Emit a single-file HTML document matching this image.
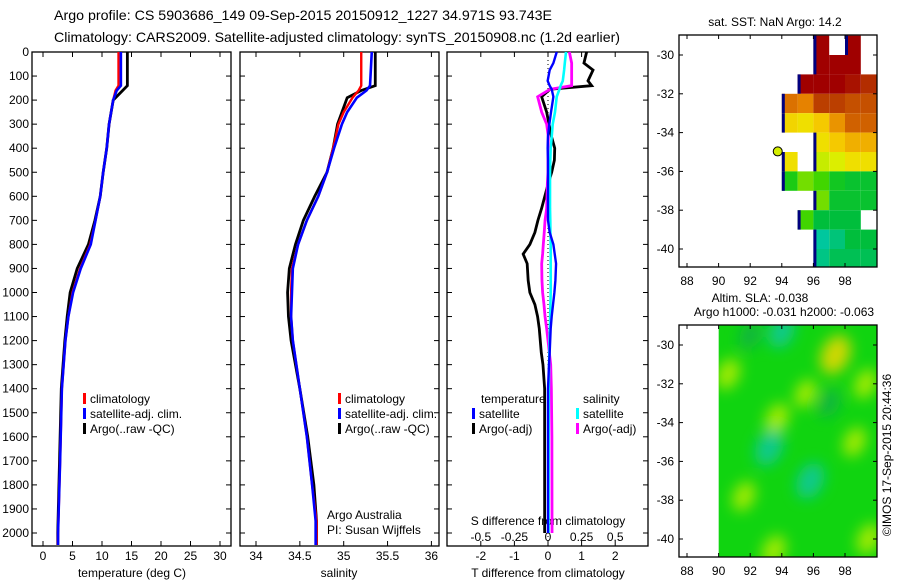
<!DOCTYPE html>
<html><head><meta charset="utf-8"><style>
body{margin:0;background:#fff;}
svg{display:block;font-family:"Liberation Sans",sans-serif;}
text{fill:#000;}
</style></head><body>
<svg id="chart" width="900" height="580" viewBox="0 0 900 580" xmlns="http://www.w3.org/2000/svg">
<text x="54" y="20" font-size="14" textLength="498" lengthAdjust="spacingAndGlyphs">Argo profile: CS 5903686_149 09-Sep-2015 20150912_1227 34.971S 93.743E</text>
<text x="54" y="42" font-size="14" textLength="566" lengthAdjust="spacingAndGlyphs">Climatology: CARS2009. Satellite-adjusted climatology: synTS_20150908.nc (1.2d earlier)</text>
<g id="g"></g>
</svg>
<script>
// ---------- profile data ----------
const tDepth = [0,140,160,200,300,400,500,600,700,800,900,1000,1100,1200,1300,1400,1500,1700,2000,2050];
const tClim  = [12.8,12.8,12.3,11.9,11.2,10.8,10.2,9.7,8.9,8.0,6.3,5.0,4.3,3.8,3.5,3.2,3.1,2.9,2.55,2.5];
const tSat   = [13.2,13.2,12.5,11.9,11.2,10.8,10.2,9.7,8.9,8.1,6.4,5.1,4.3,3.8,3.5,3.2,3.1,2.9,2.55,2.55];
const tArgo  = [14.3,14.3,13.5,11.9,11.2,10.8,10.2,9.7,8.8,7.7,5.8,4.6,4.1,3.7,3.4,3.1,3.0,2.8,2.5,2.5];
const sDepth = [0,140,160,190,250,300,400,500,600,700,800,900,1000,1100,1200,1300,1400,1600,1800,1950,2000,2050];
const sClim  = [35.20,35.20,35.17,35.10,35.00,34.94,34.88,34.81,34.71,34.58,34.48,34.41,34.40,34.40,34.42,34.46,34.50,34.58,34.64,34.69,34.69,34.69];
const sSat   = [35.32,35.30,35.26,35.15,35.04,34.98,34.89,34.81,34.71,34.58,34.48,34.42,34.41,34.40,34.42,34.46,34.50,34.58,34.64,34.68,34.68,34.68];
const sArgo  = [35.36,35.36,35.20,35.04,34.98,34.93,34.88,34.81,34.67,34.54,34.45,34.38,34.36,34.37,34.40,34.45,34.50,34.59,34.66,34.69,34.69,34.69];
const dDepth = [0,46,75,120,140,155,186,250,300,350,400,450,500,550,650,700,750,800,840,880,950,1000,1050,1100,1150,1250,1300,1400,1600,2000];
const dTArgo = [1.15,1.07,1.34,1.19,1.3,0.06,-0.19,-0.04,0.03,0.1,0.2,0.19,0.11,0.0,-0.19,-0.3,-0.39,-0.54,-0.74,-0.62,-0.59,-0.54,-0.39,-0.31,-0.26,-0.2,-0.15,-0.1,-0.1,-0.1];
const dTSat  = [0.26,0.16,0.05,-0.01,0.05,0.11,0.16,0.09,0.04,0.0,-0.01,0.0,0.0,0.0,0.0,0.0,0.05,0.16,0.2,0.24,0.22,0.19,0.15,0.11,0.08,0.05,0.03,0.0,0.0,0.0];
const dSSat  = [0.134,0.125,0.12,0.11,0.094,0.085,0.065,0.052,0.035,0.028,0.02,0.017,0.015,0.015,0.015,0.017,0.018,0.02,0.02,0.02,0.02,0.02,0.018,0.016,0.014,0.01,0.008,0.006,0.005,0.004];
const dSArgo = [0.159,0.176,0.176,0.176,0.176,0.015,-0.077,-0.047,-0.01,0.002,0.0,0.0,0.0,-0.005,-0.01,-0.022,-0.028,-0.035,-0.04,-0.047,-0.045,-0.04,-0.03,-0.022,-0.01,0.01,0.02,0.025,0.029,0.03];
const depthTicks = [0,100,200,300,400,500,600,700,800,900,1000,1100,1200,1300,1400,1500,1600,1700,1800,1900,2000];
const tempTicks = [0,5,10,15,20,25,30];
const salTicks = [34,34.5,35,35.5,36];
const salTickLabels = ["34","34.5","35","35.5","36"];
const dTTicks = [-2,-1,0,1,2];
const dSTicks = [-0.5,-0.25,0,0.25,0.5];
const dSTickLabels = ["-0.5","-0.25","0","0.25","0.5"];
// ---------- SST map (1 deg cells, lon 94..100, lat -29..-41) ----------
const sstLons = [94,95,96,97,98,99];
const sstLats = [-29,-30,-31,-32,-33,-34,-35,-36,-37,-38,-39,-40];
const sstRows = [
 [null,null,17.5,null,17.5,null],
 [null,null,17.5,17.5,17.5,null],
 [null,17.5,17.5,17.5,17.3,17.0],
 [16.2,16.0,16.8,16.8,16.6,16.6],
 [15.0,14.8,15.2,15.8,16.4,16.4],
 [null,null,14.8,15.2,15.5,15.5],
 [14.8,null,14.0,14.3,14.8,14.8],
 [13.0,13.6,13.4,12.8,12.6,12.6],
 [null,null,13.6,12.6,12.6,12.6],
 [null,13.4,12.4,12.4,12.4,null],
 [null,null,11.6,11.9,12.4,12.4],
 [null,null,11.8,12.2,12.2,12.2]];
const argoLon = 93.743, argoLat = -34.971, argoSST = 14.2;
// ---------- SLA map features ----------
const slaBlobLon = [97.4,90.6,93.7,99.5,93.5,98.6,91.6,94.0,93.2,95.8,97.0,95.5,92.0,99.3];
const slaBlobLat = [-30.5,-31.5,-33.8,-40.0,-40.6,-35.0,-37.8,-29.3,-35.3,-37.0,-33.0,-32.5,-29.5,-32.0];
const slaBlobVal = [0.12,0.06,0.06,0.06,0.06,0.05,0.05,-0.08,-0.1,-0.1,-0.04,0.04,-0.04,0.05];

const NS="http://www.w3.org/2000/svg";
const G=document.getElementById('g');
function el(tag,attrs,parent){const e=document.createElementNS(NS,tag);for(const k in attrs)e.setAttribute(k,attrs[k]);(parent||G).appendChild(e);return e;}
function txt(x,y,s,size,anchor,name){const t=el('text',{x:x,y:y,'font-size':size,'text-anchor':anchor||'start'});t.textContent=s;


return t;}

const Y0=52, Y1=546;
const yD=d=>52+d*0.2405;
const xT=v=>43+v*5.9;
const xS=v=>256+(v-34)*87.7;
const xDT=v=>548+v*33.6;
const xDS=v=>548+v*134.4;

function frame(x0,x1,name){
 const r=el('rect',{x:x0,y:Y0,width:x1-x0,height:Y1-Y0,fill:'none',stroke:'#000','stroke-width':1.3});
 
 
 depthTicks.forEach(d=>{el('line',{x1:x0,x2:x0+5,y1:yD(d),y2:yD(d),stroke:'#000'});el('line',{x1:x1,x2:x1-5,y1:yD(d),y2:yD(d),stroke:'#000'});});
}
function xticks(vals,fx,labels,name){
 vals.forEach((v,i)=>{const x=fx(v);el('line',{x1:x,x2:x,y1:Y0,y2:Y0+5,stroke:'#000'});el('line',{x1:x,x2:x,y1:Y1,y2:Y1-5,stroke:'#000'});
 txt(x,560,labels[i],12,'middle',name);});
}
function line(ds,vs,fx,color,w,name){
 let pts=[];ds.forEach((d,i)=>{const x=fx(vs[i]);pts.push(x+','+yD(d));});
 const p=el('polyline',{points:pts.join(' '),fill:'none',stroke:color,'stroke-width':w,'stroke-linejoin':'miter'});
 
 
}
// panel 1
frame(32,231,'temperature-panel');
depthTicks.forEach(d=>txt(29,yD(d)+4,String(d),12,'end','depth-tick-label'));
xticks(tempTicks,xT,tempTicks.map(String),'temperature-tick-label');
txt(132,577,'temperature (deg C)',12,'middle','temperature-axis-title');
line(tDepth,tArgo,xT,'#000',2.8,'temp-argo-line');
line(tDepth,tClim,xT,'#f00',2.4,'temp-climatology-line');
line(tDepth,tSat,xT,'#00f',2.6,'temp-satellite-line');
// panel 2
frame(240,439,'salinity-panel');
xticks(salTicks,xS,salTickLabels,'salinity-tick-label');
txt(339,577,'salinity',12,'middle','salinity-axis-title');
line(sDepth,sArgo,xS,'#000',2.8,'sal-argo-line');
line(sDepth,sClim,xS,'#f00',2.4,'sal-climatology-line');
line(sDepth,sSat,xS,'#00f',2.6,'sal-satellite-line');
txt(327,519,'Argo Australia',12,'start','credit-line-1');
txt(327,534,'PI: Susan Wijffels',12,'start','credit-line-2');
// panel 3
frame(447,648,'difference-panel');
xticks(dTTicks,xDT,dTTicks.map(String),'t-diff-tick-label');
dSTicks.forEach((v,i)=>txt(xDS(v),541,dSTickLabels[i],12,'middle','s-diff-tick-label'));
txt(548,525,'S difference from climatology',12,'middle','s-diff-axis-title');
txt(548,577,'T difference from climatology',12,'middle','t-diff-axis-title');
el('line',{x1:548,x2:548,y1:Y0,y2:Y1,stroke:'#000','stroke-dasharray':'1,3'});
line(dDepth,dTArgo,xDT,'#000',2.8,'diff-t-argo-line');
line(dDepth,dSArgo,xDS,'#f0f',2.8,'diff-s-argo-line');
line(dDepth,dSSat,xDS,'#0ff',2.6,'diff-s-satellite-line');
line(dDepth,dTSat,xDT,'#00f',2.4,'diff-t-satellite-line');
// legends
function leg(x,y,c,s){const r=el('rect',{x:x,y:y-10,width:3,height:11,fill:c});


txt(x+7,y,s,12,'start','legend-entry');}
leg(83,403,'#f00','climatology');leg(83,418,'#00f','satellite-adj. clim.');leg(83,433,'#000','Argo(..raw -QC)');
leg(338,403,'#f00','climatology');leg(338,418,'#00f','satellite-adj. clim.');leg(338,433,'#000','Argo(..raw -QC)');
txt(481,403,'temperature',12,'start','legend-temperature-heading');
txt(583,403,'salinity',12,'start','legend-salinity-heading');
leg(472,418,'#00f','satellite');leg(472,433,'#000','Argo(-adj)');
leg(576,418,'#0ff','satellite');leg(576,433,'#f0f','Argo(-adj)');

// ---------- maps ----------
const MX0=679,MX1=877;
const mLon=v=>687+(v-88)*15.8;
function mapAxes(top,name){
 const latY=v=>top+20+(-30-v)*19.4;
 const r=el('rect',{x:MX0,y:top,width:MX1-MX0,height:232,fill:'none',stroke:'#000','stroke-width':1.3});
 
 
 [88,90,92,94,96,98].forEach(v=>{const x=mLon(v);el('line',{x1:x,x2:x,y1:top,y2:top+4,stroke:'#000'});el('line',{x1:x,x2:x,y1:top+232,y2:top+228,stroke:'#000'});txt(x,top+250,String(v),12,'middle','map-lon-tick-label');});
 [-30,-32,-34,-36,-38,-40].forEach(v=>{const y=latY(v);el('line',{x1:MX0,x2:MX0+4,y1:y,y2:y,stroke:'#000'});el('line',{x1:MX1,x2:MX1-4,y1:y,y2:y,stroke:'#000'});txt(674,y+4,String(v),12,'end','map-lat-tick-label');});
 return latY;
}
// SST map
const sLat=v=>55+(-30-v)*19.4;
function sstColor(t){const f=Math.max(0,Math.min(1,(t-11.5)/6));
 const stops=[[0,[0,200,170]],[0.15,[0,190,60]],[0.3,[40,210,0]],[0.4,[190,235,0]],[0.5,[235,240,0]],[0.62,[245,200,0]],[0.75,[230,130,0]],[0.87,[190,70,0]],[1,[160,0,0]]];
 for(let i=1;i<stops.length;i++){if(f<=stops[i][0]){const a=stops[i-1],b=stops[i],u=(f-a[0])/(b[0]-a[0]);return 'rgb('+a[1].map((c,k)=>Math.round(c+(b[1][k]-c)*u)).join(',')+')';}}
 return 'rgb(160,0,0)';}
sstRows.forEach((row,r)=>row.forEach((v,c)=>{if(v===null)return;
 const x=mLon(sstLons[c]),y=sLat(sstLats[r]),w=15.8,h=19.4;
 const cell=el('rect',{x:x,y:y,width:Math.min(w,MX1-x),height:Math.min(h,267-y),fill:sstColor(v)});
 
 
 if(c===0||row[c-1]===null){el('rect',{x:x,y:y,width:3,height:Math.min(h,267-y),fill:'#000080'});}
}));
const ap=el('circle',{cx:mLon(argoLon),cy:sLat(argoLat),r:4.5,fill:sstColor(argoSST),stroke:'#000','stroke-width':1});


mapAxes(35,'sst-map');
txt(775,26,'sat. SST: NaN Argo: 14.2',12,'middle','sst-map-title');
// SLA map
const defs=el('defs',{});
const flt=el('filter',{id:'blur',x:'-50%',y:'-50%',width:'200%',height:'200%'},defs);
el('feGaussianBlur',{stdDeviation:7},flt);
const cp=el('clipPath',{id:'slaclip'},defs);
el('rect',{x:mLon(90),y:325,width:MX1-mLon(90),height:232},cp);
const slaG=el('g',{'clip-path':'url(#slaclip)'});
const bg=el('rect',{x:mLon(90),y:325,width:MX1-mLon(90),height:232,fill:'#10d410'},slaG);


const bl=el('g',{filter:'url(#blur)'},slaG);
const aLat=v=>345+(-30-v)*19.4;
slaBlobLon.forEach((lo,i)=>{const v=slaBlobVal[i];
 const col=v>0.09?'#f0d800':v>0?'#b8ee00':v>-0.06?'#10b048':'#10c8a0';
 const x=mLon(lo),y=aLat(slaBlobLat[i]);
 const b=el('ellipse',{cx:x,cy:y,rx:8+Math.abs(v)*50,ry:12+Math.abs(v)*70,fill:col,opacity:0.85,transform:'rotate(25 '+x+' '+y+')'},bl);
 
 
});
mapAxes(325,'sla-map');
txt(760,302,'Altim. SLA: -0.038',12,'middle','sla-title');
txt(784,316,'Argo h1000: -0.031 h2000: -0.063',12,'middle','sla-argo-title');
const cr=txt(0,0,'©IMOS 17-Sep-2015 20:44:36',12,'middle','timestamp-credit');
cr.setAttribute('transform','translate(891,455) rotate(-90)');
</script>
</body></html>
